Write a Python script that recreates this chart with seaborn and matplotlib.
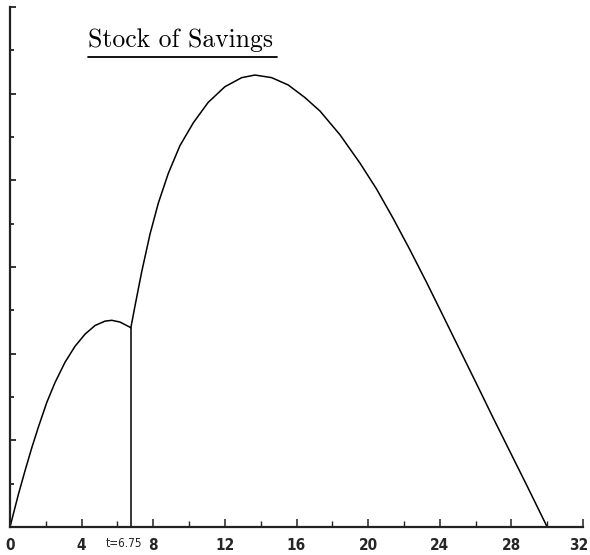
import matplotlib
matplotlib.use("Agg")
import matplotlib.pyplot as plt
from matplotlib.lines import Line2D
from matplotlib.ticker import MultipleLocator
from matplotlib.transforms import ScaledTranslation
import seaborn as sns
import pandas as pd

# --- data ---
seg1_t = [0, 0.46, 0.84, 1.21, 1.58, 2.05, 2.51, 3.07, 3.63, 4.19, 4.75, 5.30, 5.68, 6.14, 6.75]
seg1_s = [0, 0.74, 1.30, 1.82, 2.30, 2.87, 3.33, 3.80, 4.17, 4.45, 4.65, 4.75, 4.77, 4.73, 4.60]

seg2_t = [6.75, 6.98, 7.35, 7.82, 8.28, 8.84, 9.49, 10.24, 11.07, 12.0, 12.94, 13.68,
          14.61, 15.54, 16.47, 17.31, 18.43, 19.54, 20.47, 21.40, 22.33, 23.27,
          24.19, 25.13, 26.06, 26.98, 27.92, 28.85, 30.0]
seg2_s = [4.60, 5.10, 5.88, 6.76, 7.47, 8.16, 8.80, 9.33, 9.80, 10.16, 10.37, 10.43,
          10.37, 10.20, 9.91, 9.60, 9.05, 8.40, 7.80, 7.12, 6.40, 5.64,
          4.87, 4.08, 3.30, 2.52, 1.74, 0.97, 0.0]

switch_t = 6.75
x_major = [0, 4, 8, 12, 16, 20, 24, 28, 32]
x_labels = ["0", "4", "8", "12", "16", "20", "24", "28", "32"]
switch_label = "t=6.75"
title_text = "Stock of Savings"

sns.set_style("white")

fig = plt.figure(figsize=(5.90, 5.55), dpi=100)
ax = fig.add_axes([10 / 590, 28 / 555, 573 / 590, 520 / 555])

df1 = pd.DataFrame({"t": seg1_t, "s": seg1_s})
df2 = pd.DataFrame({"t": seg2_t, "s": seg2_s})
sns.lineplot(data=df1, x="t", y="s", color="black", linewidth=1.1, ax=ax, clip_on=False)
sns.lineplot(data=df2, x="t", y="s", color="black", linewidth=1.1, ax=ax, clip_on=False)
ax.vlines(switch_t, 0, seg1_s[-1], color="black", linewidth=1.1)

ax.set_xlim(0, 32)
ax.set_ylim(0, 12)
ax.set_xlabel("")
ax.set_ylabel("")

for side in ["top", "right"]:
    ax.spines[side].set_visible(False)
for side in ["left", "bottom"]:
    ax.spines[side].set_visible(True)
    ax.spines[side].set_linewidth(1.6)
    ax.spines[side].set_color("#222222")

ax.set_xticks(x_major)
ax.set_xticklabels(x_labels[:-1] + [""])
ax.xaxis.set_minor_locator(MultipleLocator(2))
ax.yaxis.set_major_locator(MultipleLocator(2))
ax.yaxis.set_minor_locator(MultipleLocator(1))
ax.set_yticklabels([])

ax.tick_params(axis="x", which="major", bottom=True, direction="in", length=6, width=1.1,
               color="#222222", pad=8, labelsize=11)
ax.tick_params(axis="x", which="minor", bottom=True, direction="in", length=4, width=1.0,
               color="#222222")
ax.tick_params(axis="y", which="major", left=True, direction="in", length=4, width=1.3,
               color="#222222")
ax.tick_params(axis="y", which="minor", left=True, direction="in", length=3, width=1.3,
               color="#222222")
for lab in ax.get_xticklabels():
    lab.set_fontfamily("DejaVu Sans")
    lab.set_fontstretch("condensed")
    lab.set_fontweight("bold")

# last tick label, nudged so it stays inside the canvas
ax.text(x_major[-1], 0, x_labels[-1], ha="center", va="top", fontsize=11,
        fontfamily="DejaVu Sans", fontstretch="condensed", fontweight="bold",
        transform=ax.get_xaxis_transform() + ScaledTranslation(-4 / 100, -8 / 72, fig.dpi_scale_trans),
        clip_on=False)

ax.text(switch_t - 0.36, -0.22, switch_label, ha="center", va="top", fontsize=8.5,
        fontfamily="DejaVu Sans", fontstretch="condensed", clip_on=False)

fig.text(181 / 590, 1 - 47 / 555, title_text, ha="center", va="baseline",
         fontsize=18.5, fontfamily="cmr10", color="black")
fig.add_artist(Line2D([88 / 590, 277 / 590], [1 - 56.5 / 555, 1 - 56.5 / 555],
                      transform=fig.transFigure, color="black", linewidth=1.3))

fig.savefig("out.png", dpi=100)
